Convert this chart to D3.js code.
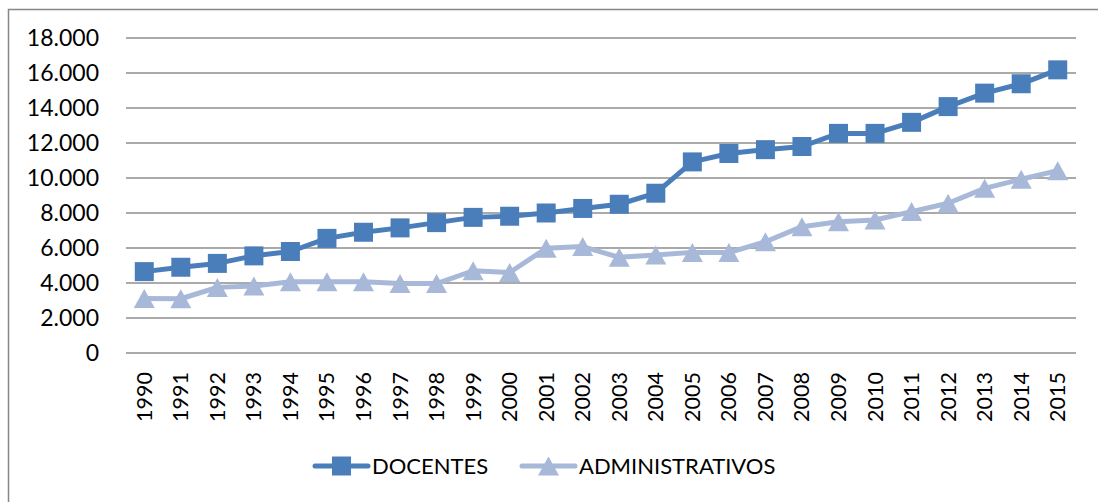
<!DOCTYPE html>
<html>
<head>
<meta charset="utf-8">
<script src="https://d3js.org/d3.v7.min.js"></script>
<style>
  body { margin: 0; background: #fff; }
  text { font-family: Lato, "Open Sans", sans-serif; fill: #000; }
  .grid line { stroke: #8e8e8e; stroke-width: 1.4px; }
  .line { fill: none; stroke-width: 5px; stroke-linejoin: round; }
</style>
</head>
<body>
<script>
// data
var years = ["1990","1991","1992","1993","1994","1995","1996","1997","1998","1999","2000","2001","2002",
             "2003","2004","2005","2006","2007","2008","2009","2010","2011","2012","2013","2014","2015"];
var docentes = [4650, 4900, 5120, 5550, 5800, 6550, 6900, 7150, 7450, 7750, 7820, 8000, 8260,
                8500, 9130, 10920, 11400, 11620, 11800, 12550, 12550, 13180, 14080, 14850, 15380, 16180];
var administrativos = [3120, 3100, 3750, 3830, 4070, 4070, 4070, 3970, 3970, 4700, 4600, 5980, 6080,
                       5470, 5600, 5750, 5740, 6360, 7220, 7500, 7600, 8080, 8560, 9410, 9930, 10420];
var yTicks = [0, 2000, 4000, 6000, 8000, 10000, 12000, 14000, 16000, 18000];
var seriesNames = ["DOCENTES", "ADMINISTRATIVOS"];
var colors = ["#4a7ebb", "#a7b8d8"];

var width = 1098, height = 502;
var plot = {left: 126, right: 1076, top: 38, bottom: 353};

var svg = d3.select("body").append("svg")
    .attr("width", width)
    .attr("height", height);

// outer frame (only left and top edges visible in the picture)
svg.append("rect")
    .attr("x", 8.5).attr("y", 9.5)
    .attr("width", width + 10).attr("height", height + 10)
    .attr("fill", "none").attr("stroke", "#868686").attr("stroke-width", 1.5);

var x = d3.scaleBand().domain(years).range([plot.left, plot.right]);
var y = d3.scaleLinear().domain([0, 18000]).range([plot.bottom, plot.top]);

var fmt = function(v) { return v === 0 ? "0" : d3.format(",")(v).replace(/,/g, "."); };

// gridlines
svg.append("g").attr("class", "grid")
    .selectAll("line").data(yTicks).enter().append("line")
    .attr("x1", plot.left).attr("x2", plot.right)
    .attr("y1", function(d) { return y(d); })
    .attr("y2", function(d) { return y(d); });

// y labels
svg.append("g").selectAll("text").data(yTicks).enter().append("text")
    .attr("x", 99)
    .attr("y", function(d) { return y(d); })
    .attr("dy", "0.35em")
    .attr("text-anchor", "end")
    .style("font-size", "23px")
    .text(fmt);

// x labels (rotated)
svg.append("g").selectAll("text").data(years).enter().append("text")
    .attr("transform", function(d) {
        return "translate(" + (x(d) + x.bandwidth() / 2) + ",372) rotate(-90)";
    })
    .attr("dy", "0.35em")
    .attr("text-anchor", "end")
    .style("font-size", "21.5px")
    .text(function(d) { return d; });

var cx = function(d, i) { return x(years[i]) + x.bandwidth() / 2; };

var line = d3.line()
    .x(function(d, i) { return cx(d, i); })
    .y(function(d) { return y(d); });

function square(px, py) {
    var s = 9.5;
    return "M" + (px - s) + "," + (py - s) + "h" + 2 * s + "v" + 2 * s + "h" + (-2 * s) + "Z";
}
function triangle(px, py) {
    var w = 10.5, h = 9.5;
    return "M" + px + "," + (py - h) + "L" + (px + w) + "," + (py + h) + "L" + (px - w) + "," + (py + h) + "Z";
}

// ADMINISTRATIVOS
svg.append("path").datum(administrativos)
    .attr("class", "line").attr("stroke", colors[1]).attr("d", line);
svg.append("g").selectAll("path").data(administrativos).enter().append("path")
    .attr("fill", colors[1])
    .attr("d", function(d, i) { return triangle(cx(d, i), y(d)); });

// DOCENTES
svg.append("path").datum(docentes)
    .attr("class", "line").attr("stroke", colors[0]).attr("d", line);
svg.append("g").selectAll("path").data(docentes).enter().append("path")
    .attr("fill", colors[0])
    .attr("d", function(d, i) { return square(cx(d, i), y(d)); });

// legend
var legend = [
    {name: seriesNames[0], color: colors[0], x0: 315, shape: square},
    {name: seriesNames[1], color: colors[1], x0: 522, shape: triangle}
];
var ly = 466;
var lg = svg.append("g").selectAll("g").data(legend).enter().append("g");
lg.append("line")
    .attr("x1", function(d) { return d.x0; })
    .attr("x2", function(d) { return d.x0 + 53; })
    .attr("y1", ly).attr("y2", ly)
    .attr("stroke", function(d) { return d.color; })
    .attr("stroke-width", 5).attr("stroke-linecap", "round");
lg.append("path")
    .attr("fill", function(d) { return d.color; })
    .attr("d", function(d) { return d.shape(d.x0 + 26.5, ly); });
lg.append("text")
    .attr("x", function(d) { return d.x0 + 57; })
    .attr("y", ly)
    .attr("dy", "0.35em")
    .style("font-size", "22px")
    .text(function(d) { return d.name; });
</script>
</body>
</html>
